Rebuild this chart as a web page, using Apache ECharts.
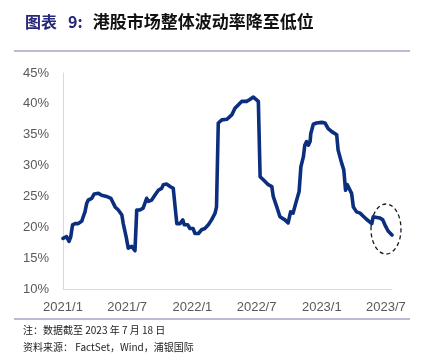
<!DOCTYPE html>
<html>
<head>
<meta charset="utf-8">
<script src="https://cdn.jsdelivr.net/npm/echarts@6/dist/echarts.min.js"></script>
<style>
html,body{margin:0;padding:0;background:#fff;}
#main{width:427px;height:357px;}
</style>
</head>
<body>
<div id="main"></div>
<script>
// Hang Seng market volatility (%)
var dates = [
'2021-01-01','2021-01-11','2021-01-18','2021-01-23','2021-01-28','2021-02-04','2021-02-13','2021-02-23','2021-02-27',
'2021-03-04','2021-03-09','2021-03-13','2021-03-23','2021-03-30','2021-04-11','2021-04-20','2021-05-04','2021-05-16',
'2021-05-28','2021-06-06','2021-06-16','2021-06-20','2021-06-28','2021-07-04','2021-07-09','2021-07-14','2021-07-18',
'2021-07-23','2021-07-28','2021-08-06','2021-08-15','2021-08-25','2021-08-30','2021-09-08','2021-09-17','2021-09-27',
'2021-10-06','2021-10-11','2021-10-20','2021-10-30','2021-11-08','2021-11-13','2021-11-18','2021-11-27','2021-12-05',
'2021-12-09','2021-12-19','2021-12-25','2022-01-03','2022-01-08','2022-01-18','2022-01-27','2022-02-05','2022-02-15',
'2022-02-24','2022-03-06','2022-03-10','2022-03-15','2022-03-25','2022-04-08','2022-04-22','2022-05-01','2022-05-10',
'2022-05-20','2022-06-03','2022-06-12','2022-06-22','2022-06-26','2022-07-06','2022-07-11','2022-07-20','2022-08-03',
'2022-08-13','2022-08-17','2022-08-27','2022-09-05','2022-09-19','2022-09-28','2022-10-03','2022-10-05','2022-10-12',
'2022-10-17','2022-10-22','2022-10-29','2022-11-03','2022-11-10','2022-11-14','2022-11-19','2022-11-24','2022-11-29',
'2022-12-01','2022-12-08','2022-12-17','2023-01-01','2023-01-10','2023-01-19','2023-01-29','2023-02-12','2023-02-16',
'2023-02-26','2023-03-04','2023-03-09','2023-03-14','2023-03-19','2023-03-26','2023-03-31','2023-04-09','2023-04-19',
'2023-04-28','2023-05-07','2023-05-12','2023-05-22','2023-05-26','2023-06-05','2023-06-14','2023-06-22','2023-06-28',
'2023-07-07','2023-07-18'
];
var values = [
18.2,18.5,17.7,18.5,20.4,20.6,20.6,21.0,21.7,
22.5,23.9,24.4,24.7,25.4,25.5,25.2,25.0,24.7,
23.3,22.8,22.0,20.6,18.5,16.6,16.3,16.9,16.6,
16.2,22.8,22.8,23.1,24.7,24.2,24.4,25.2,26.0,
26.3,26.9,27.0,26.6,26.3,26.0,20.6,20.6,21.2,
20.4,20.4,19.8,19.8,19.0,19.0,19.6,19.8,20.4,
21.2,22.3,23.3,36.9,37.4,37.5,38.2,39.3,39.8,
40.4,40.4,40.7,41.1,40.9,40.4,28.2,27.7,26.9,
26.6,25.0,23.3,21.7,21.2,20.7,20.6,22.5,22.3,
22.0,24.4,25.8,29.8,31.4,33.3,33.9,33.3,33.9,
35.2,36.7,36.9,37.0,36.9,36.0,35.5,35.0,32.5,
30.4,29.3,26.0,26.9,27.1,25.5,23.3,22.5,22.3,
21.8,21.3,21.5,20.6,21.7,21.6,21.5,21.2,20.4,
19.4,18.75
];
var xTickDates = ['2021-01-01','2021-07-01','2022-01-01','2022-07-01','2023-01-01','2023-07-01'];
var yTicks = [10,15,20,25,30,35,40,45];
var titleLabel = '图表';
var titleNum = '9:';
var titleText = '港股市场整体波动率降至低位';
var note = '注：数据截至 2023 年 7 月 18 日';
var source = '资料来源： FactSet，Wind，浦银国际';

function ts(s){ var p = s.split('-'); return Date.UTC(+p[0], +p[1]-1, +p[2]); }

var chart = echarts.init(document.getElementById('main'), null, {renderer:'canvas'});
var seriesData = dates.map(function(d,i){ return [ts(d), values[i]]; });
var xTicks = xTickDates.map(ts);

chart.setOption({
  animation:false,
  backgroundColor:'#ffffff',
  title:{
    left:25, top:13, padding:0,
    text:'{a|' + titleLabel + '} {n|' + titleNum + '} {b|' + titleText + '}',
    textStyle:{
      rich:{
        a:{fontFamily:'Noto Sans CJK SC', fontWeight:'bold', fontSize:16, color:'#26267a'},
        n:{fontFamily:'Noto Sans CJK SC', fontWeight:'bold', fontSize:16, color:'#26267a', padding:[0,0,0,6]},
        b:{fontFamily:'Noto Sans CJK SC', fontWeight:'bold', fontSize:17, color:'#111111', padding:[0,0,0,5]}
      }
    }
  },
  grid:{left:63, right:35, top:73, bottom:68},
  xAxis:{
    type:'value',
    min:ts('2021-01-01'),
    max:ts('2023-07-18'),
    axisLine:{show:true, lineStyle:{color:'#d9d9d9', width:1}},
    axisTick:{show:false},
    splitLine:{show:false},
    axisLabel:{
      customValues:xTicks,
      showMinLabel:true,
      margin:12,
      color:'#595959',
      fontSize:13,
      fontFamily:'Liberation Sans',
      formatter:function(v){ var d = new Date(v); return d.getUTCFullYear() + '/' + (d.getUTCMonth()+1); }
    }
  },
  yAxis:{
    type:'value',
    min:10, max:45, interval:5,
    axisLine:{show:true, lineStyle:{color:'#d9d9d9', width:1}},
    axisTick:{show:false},
    splitLine:{show:false},
    axisLabel:{
      customValues:yTicks,
      margin:14,
      color:'#595959',
      fontSize:13,
      fontFamily:'Liberation Sans',
      formatter:function(v){ return v + '%'; }
    }
  },
  series:[{
    type:'line',
    data:seriesData,
    showSymbol:false,
    lineStyle:{color:'#0b2e7e', width:3.6, join:'round', cap:'round'},
    itemStyle:{color:'#0b2e7e'}
  }],
  graphic:[
    {type:'line', shape:{x1:14, y1:51, x2:410, y2:51}, style:{stroke:'#7b74a8', lineWidth:1.2}},
    {type:'line', shape:{x1:14, y1:319, x2:410, y2:319}, style:{stroke:'#7b74a8', lineWidth:1.2}},
    {type:'ellipse', shape:{cx:386, cy:229, rx:15, ry:25}, style:{fill:'none', stroke:'#1a1a2a', lineWidth:1.3, lineDash:[4,3]}},
    {type:'text', left:23, top:325, style:{text:note, font:'10px "Noto Sans CJK SC"', fill:'#222222'}},
    {type:'text', left:23, top:342, style:{text:source, font:'10px "Noto Sans CJK SC"', fill:'#222222'}}
  ]
});
</script>
</body>
</html>
